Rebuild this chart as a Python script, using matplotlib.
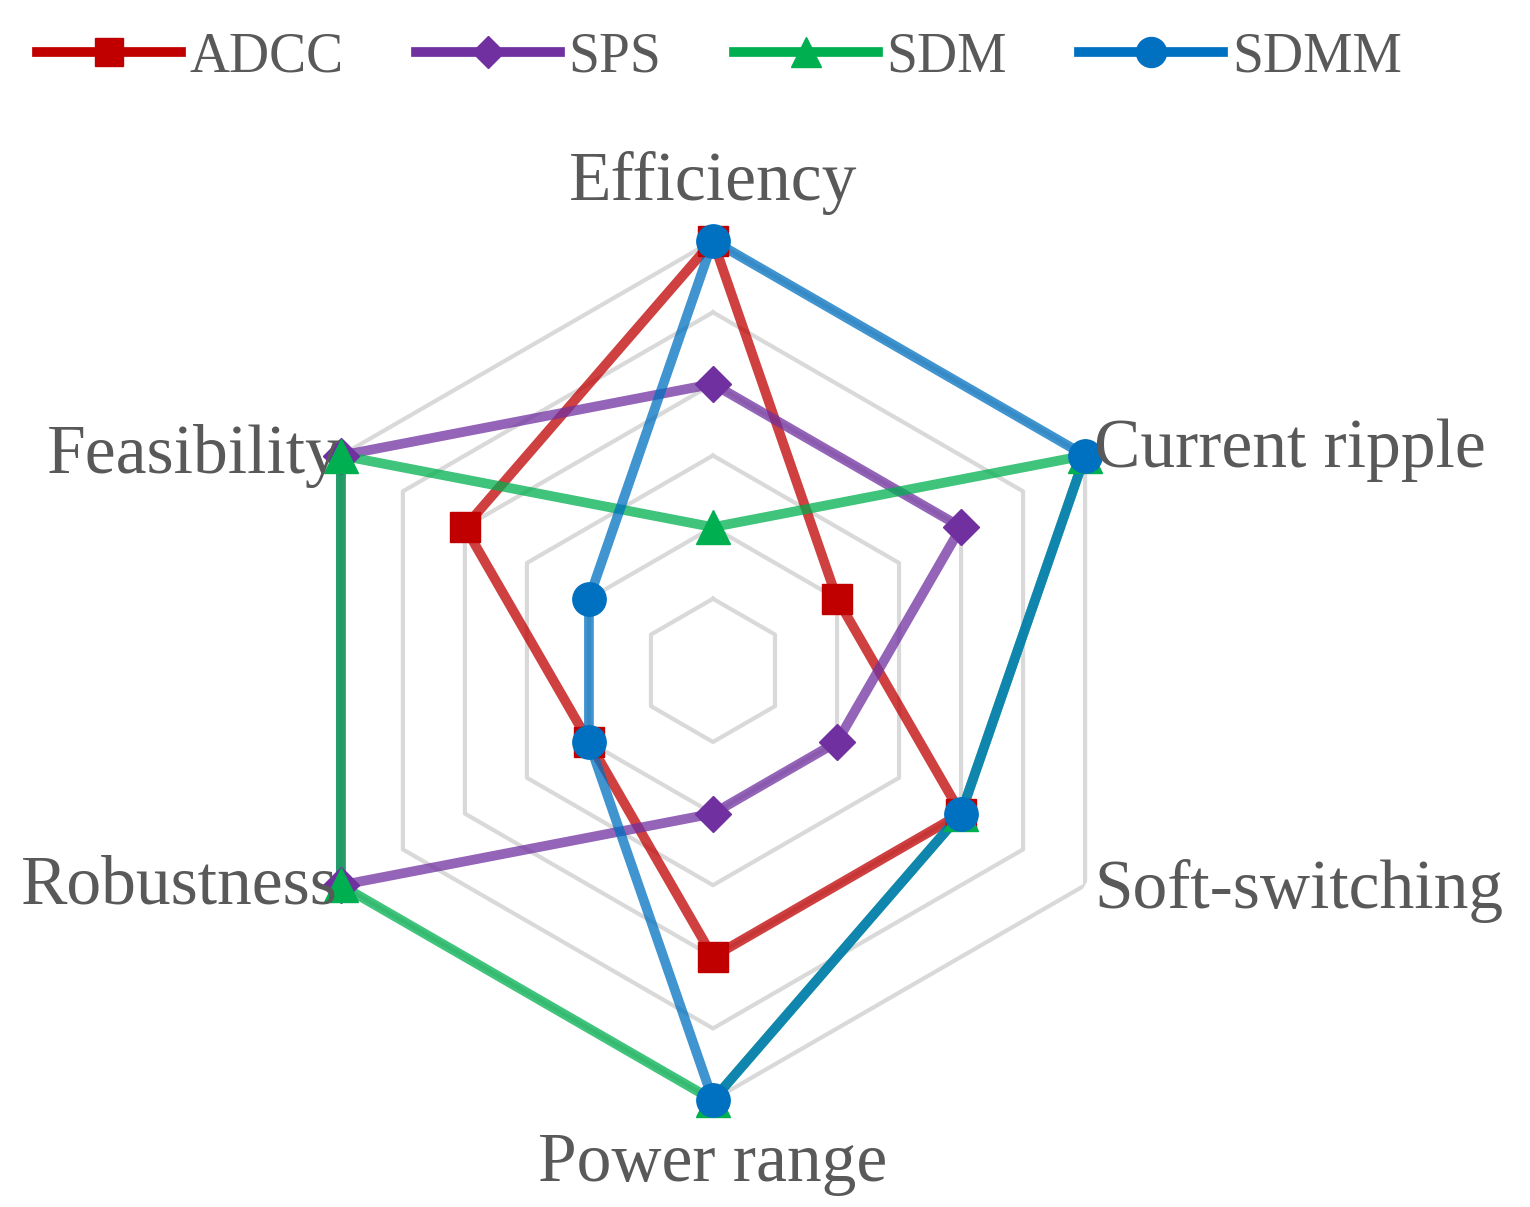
import numpy as np
import matplotlib
matplotlib.use("Agg")
import matplotlib.pyplot as plt

categories = ["Efficiency", "Current ripple", "Soft-switching", "Power range", "Robustness", "Feasibility"]
series_names = ["ADCC", "SPS", "SDM", "SDMM"]
adcc = [6, 2, 4, 4, 2, 4]
sps = [4, 4, 2, 2, 6, 6]
sdm = [2, 6, 4, 6, 6, 6]
sdmm = [6, 6, 4, 6, 2, 2]
values = [adcc, sps, sdm, sdmm]
colors = ["#C00000", "#7030A0", "#00B050", "#0070C0"]
markers = ["s", "D", "^", "o"]
msizes = [22, 18, 24, 24]
rings = [1, 2, 3, 4, 5, 6]

plt.rcParams['font.family'] = ['Liberation Serif', 'DejaVu Serif']
fig = plt.figure(figsize=(15.3, 12.07), dpi=100)
ax = fig.add_axes([0.185, 0.0886, 0.562, 0.712], projection='polar')
ax.set_theta_zero_location('N')
ax.set_theta_direction(-1)
ax.set_ylim(0, 6)
ax.axis('off')

n = len(categories)
ang = np.linspace(0, 2*np.pi, n, endpoint=False)
angc = np.append(ang, ang[0])
for r in rings:
    ax.plot(angc, [r]*(n+1), color="#D9D9D9", lw=3, zorder=1)

for name, v, c, m, ms in zip(series_names, values, colors, markers, msizes):
    vv = np.append(v, v[0])
    ax.plot(angc, vv, color=c, lw=7, alpha=0.75, zorder=2, solid_capstyle='round')
    ax.plot(ang, v, ls='none', marker=m, color=c, ms=ms, zorder=3, clip_on=False)

lab_col = "#595959"
fs = 50
ax.text(ang[0], 6.8, categories[0], ha='center', va='center', fontsize=fs, color=lab_col)
ax.text(ang[1], 6.15, categories[1], ha='left', va='center', fontsize=fs, color=lab_col)
ax.text(ang[2], 6.15, categories[2], ha='left', va='center', fontsize=fs, color=lab_col)
ax.text(ang[3], 6.9, categories[3], ha='center', va='center', fontsize=fs, color=lab_col)
ax.text(ang[4], 6.05, categories[4], ha='right', va='center', fontsize=fs, color=lab_col)
ax.text(ang[5], 6.0, categories[5], ha='right', va='center', fontsize=fs, color=lab_col)

handles = []
for name, c, m, ms in zip(series_names, colors, markers, msizes):
    h, = plt.plot([], [], color=c, lw=7, marker=m, ms=ms*0.9, markerfacecolor=c,
                  markeredgecolor=c)
    handles.append(h)
leg = fig.legend(handles, series_names, loc='upper center', bbox_to_anchor=(0.47, 1.015),
                 ncol=4, frameon=False, fontsize=40, handlelength=2.6, columnspacing=1.3,
                 handletextpad=0.15)
for t in leg.get_texts():
    t.set_color(lab_col)
fig.savefig("out.png", dpi=100)
